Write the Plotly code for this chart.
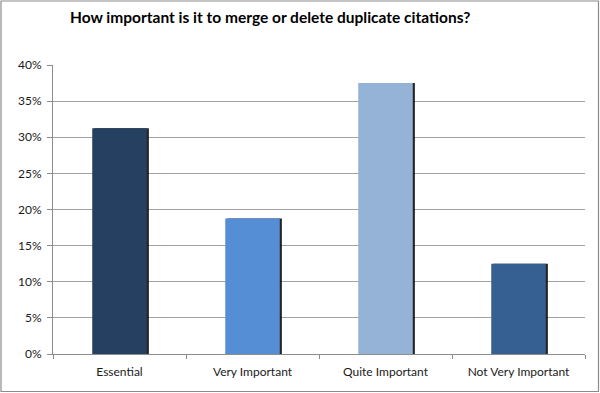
import plotly.graph_objects as go

categories = ["Essential", "Very Important", "Quite Important", "Not Very Important"]
values = [0.3125, 0.1875, 0.375, 0.125]
colors = ["#254061", "#558ED5", "#95B3D7", "#376092"]
tick_vals = [0, 0.05, 0.10, 0.15, 0.20, 0.25, 0.30, 0.35, 0.40]
tick_text = ["0%", "5%", "10%", "15%", "20%", "25%", "30%", "35%", "40%"]
title_text = "How important is it to merge or delete duplicate citations?"

W, H = 600, 393
L, R, T, B = 53, 15, 65, 39
bw = 0.41

fig = go.Figure()
# shadow
fig.add_trace(go.Bar(x=categories, y=values, width=bw, offset=-bw / 2 + 0.016,
                     marker=dict(color="rgba(0,0,0,0.85)", line=dict(width=0)),
                     hoverinfo="skip", showlegend=False))
fig.add_trace(go.Bar(x=categories, y=values, width=bw, offset=-bw / 2,
                     marker=dict(color=colors, line=dict(width=0)),
                     showlegend=False))

pw, ph = W - L - R, H - T - B
def px(x):
    return (x - L) / pw
def py(y):
    return (H - B - y) / ph

fig.add_shape(type="rect", xref="paper", yref="paper",
              x0=px(1), x1=px(598.5), y0=py(391.5), y1=py(1),
              line=dict(color="#8C8C8C", width=1.2), fillcolor="rgba(0,0,0,0)",
              layer="above")

fig.update_layout(
    width=W, height=H,
    margin=dict(l=L, r=R, t=T, b=B),
    barmode="overlay",
    paper_bgcolor="white", plot_bgcolor="white",
    font=dict(family="Lato, 'Open Sans', sans-serif", size=12, color="#1a1a1a"),
    title=dict(text="<b>" + title_text + "</b>", xref="container", yref="container",
               x=70 / W, xanchor="left", y=1 - 18 / H, yanchor="middle",
               font=dict(size=15.5, color="black")),
    xaxis=dict(showline=True, linecolor="#8C8C8C", linewidth=1,
               ticks="outside", tickson="boundaries", ticklen=4, tickcolor="#8C8C8C",
               showgrid=False, tickfont=dict(size=12), ticklabelstandoff=7),
    yaxis=dict(range=[0, 0.40], tickvals=tick_vals, ticktext=tick_text,
               showline=True, linecolor="#8C8C8C", linewidth=1,
               ticks="outside", ticklen=5, tickcolor="#8C8C8C",
               showgrid=True, gridcolor="#A3A3A3", gridwidth=1,
               zeroline=False, tickfont=dict(size=12), ticklabelstandoff=3),
)

fig.write_html("out.html", config={"displayModeBar": False},
               post_script="document.body.style.margin='0';document.body.style.padding='0';")
